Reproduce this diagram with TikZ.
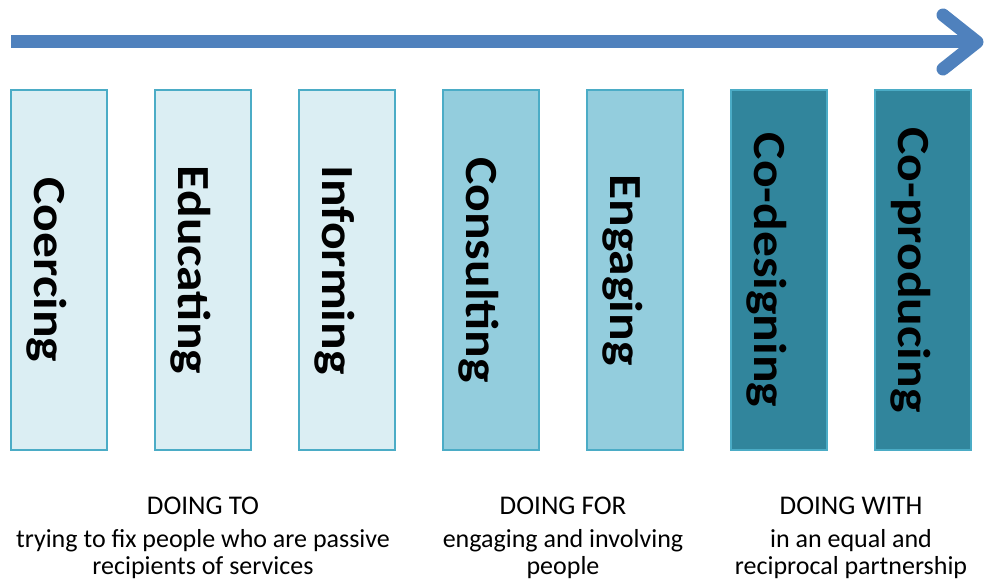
\documentclass[tikz,border=0pt]{standalone}
\usepackage{fontspec}
\setmainfont{Carlito}
\usetikzlibrary{positioning}

\definecolor{arrowblue}{HTML}{4F81BD}
\definecolor{boxline}{HTML}{4BACC6}
\definecolor{palefill}{HTML}{DBEEF3}
\definecolor{midfill}{HTML}{93CDDD}
\definecolor{darkfill}{HTML}{31859C}

\begin{document}
\begin{tikzpicture}[x=1pt, y=1pt]
    \useasboundingbox (0,0) rectangle (984,585);

    % the arrow along the top
    \coordinate (start) at (11,543);
    \coordinate (tip) at (977,543);
    \coordinate (wingup) at (943,570);
    \coordinate (wingdown) at (943,516);
    \begin{scope}[shift={(1,-3)}]
        \draw [black!25, opacity=0.6, line width=13] (start) -- (tip);
    \end{scope}
    \draw [arrowblue, line width=13] (start) -- (tip);
    \draw [arrowblue, line width=13, line cap=round, line join=round] (wingup) -- (tip) -- (wingdown);

    % the seven boxes
    \begin{scope}[every node/.style={rectangle, draw=boxline, line width=1.8, minimum width=96, minimum height=360, inner sep=0pt}]
        \node [fill=palefill] (coercing) at (59,315) {};
        \node [fill=palefill] (educating) at (203,315) {};
        \node [fill=palefill] (informing) at (347,315) {};
        \node [fill=midfill] (consulting) at (491,315) {};
        \node [fill=midfill] (engaging) at (635,315) {};
        \node [fill=darkfill] (codesigning) at (779,315) {};
        \node [fill=darkfill] (coproducing) at (923,315) {};
    \end{scope}

    \begin{scope}[every node/.style={rotate=-90, xscale=1.12, anchor=base, inner sep=0pt, font=\fontsize{46}{54}\selectfont\bfseries}]
        \node (coercinglbl) at (34,315) {Coercing};
        \node (educatinglbl) at (178,315) {Educating};
        \node (informinglbl) at (322,315) {Informing};
        \node (consultinglbl) at (466,315) {Consulting};
        \node (engaginglbl) at (610,315) {Engaging};
        \node (codesigninglbl) at (754,315) {Co-designing};
        \node (coproducinglbl) at (898,315) {Co-producing};
    \end{scope}

    % the three groups underneath
    \begin{scope}[every node/.style={anchor=base, inner sep=0pt, font=\fontsize{27}{32}\selectfont}]
        \node (doingto) at (203,70) {DOING TO};
        \node (doingfor) at (563,70) {DOING FOR};
        \node (doingwith) at (851,70) {DOING WITH};
    \end{scope}

    \begin{scope}[every node/.style={anchor=base, inner sep=0pt, align=center, font=\fontsize{26}{27}\selectfont}]
        \node (tonote) at (203,10) {trying to fix people who are passive\\recipients of services};
        \node (fornote) at (563,10) {engaging and involving\\people};
        \node (withnote) at (851,10) {in an equal and\\reciprocal partnership};
    \end{scope}
\end{tikzpicture}
\end{document}
